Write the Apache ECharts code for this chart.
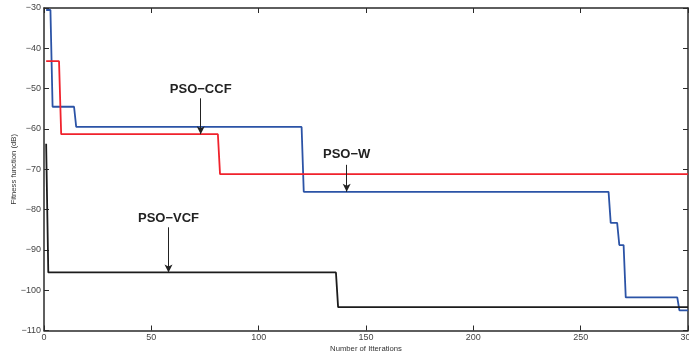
<!DOCTYPE html>
<html>
<head>
<meta charset="utf-8">
<script src="https://cdn.jsdelivr.net/npm/echarts@6/dist/echarts.min.js"></script>
<style>
  html, body { margin: 0; padding: 0; background: #fff; }
  #chart { width: 689px; height: 356px; }
</style>
</head>
<body>
<div id="chart"></div>
<script>
// Convergence curves: [iteration, fitness (dB)] at each step change
const psoW = [[1,-30.5],[3,-30.5],[4,-54.5],[14,-54.5],[15,-59.5],[120,-59.5],[121,-75.6],
  [263,-75.6],[264,-83.3],[267,-83.3],[268,-88.8],[270,-88.8],[271,-101.8],[295,-101.8],[296,-105],[300,-105]];
const psoCCF = [[1,-43.2],[7,-43.2],[8,-61.3],[81,-61.3],[82,-71.2],[300,-71.2]];
const psoVCF = [[1,-63.7],[2,-95.6],[136,-95.6],[137,-104.2],[300,-104.2]];

// Curve labels: text position and arrow from start to tip
const annotations = [
  { name: 'PSO−CCF', text: [73, -50.3], from: [73, -52.4], to: [73, -61.3] },
  { name: 'PSO−W',   text: [141, -66.2], from: [141, -68.9], to: [141, -75.6] },
  { name: 'PSO−VCF', text: [58, -82.3], from: [58, -84.4], to: [58, -95.6] }
];

const xTicks = { min: 0, max: 300, interval: 50 };
const yTicks = { min: -110, max: -30, interval: 10 };

const font = '"Liberation Sans", Arial, Helvetica, sans-serif';
const axisColor = '#2a2a2a';
const minus = v => String(v).replace('-', '\u2212');

const chart = echarts.init(document.getElementById('chart'), null, { renderer: 'canvas' });

const frameAxis = {
  axisLine: { show: true, onZero: false, lineStyle: { color: axisColor, width: 1.5 } },
  axisTick: { show: true, inside: true, length: 5, lineStyle: { color: axisColor, width: 1 } },
  splitLine: { show: false }
};

const lineSeries = (name, data, color) => ({
  name, type: 'line', data, xAxisIndex: 0, yAxisIndex: 0,
  showSymbol: false, symbol: 'none', animation: false,
  lineStyle: { color, width: 1.8 }, z: 3
});

chart.setOption({
  animation: false,
  backgroundColor: '#fff',
  grid: { left: 44, right: 1, top: 8, bottom: 25.5, containLabel: false, outerBoundsMode: 'none' },
  xAxis: [
    Object.assign({
      type: 'value', position: 'bottom', ...xTicks,
      name: 'Number of Itterations', nameLocation: 'middle', nameGap: 14, nameMoveOverlap: false,
      nameTextStyle: { fontFamily: font, fontSize: 7.7, color: '#333' },
      axisLabel: { fontFamily: font, fontSize: 9, color: '#444', margin: 3, formatter: minus }
    }, frameAxis),
    Object.assign({
      type: 'value', position: 'top', ...xTicks, axisLabel: { show: false }
    }, frameAxis)
  ],
  yAxis: [
    Object.assign({
      type: 'value', position: 'left', ...yTicks,
      name: 'Fitness function (dB)', nameLocation: 'middle', nameGap: 26, nameRotate: 90,
      nameMoveOverlap: false,
      nameTextStyle: { fontFamily: font, fontSize: 7.7, color: '#333' },
      axisLabel: { fontFamily: font, fontSize: 9, color: '#444', margin: 3, formatter: minus }
    }, frameAxis),
    Object.assign({
      type: 'value', position: 'right', ...yTicks, axisLabel: { show: false }
    }, frameAxis)
  ],
  series: [
    lineSeries('PSO-W', psoW, '#2b53a6'),
    lineSeries('PSO-CCF', psoCCF, '#f0222c'),
    lineSeries('PSO-VCF', psoVCF, '#1c1c1c'),
    {
      type: 'scatter', xAxisIndex: 0, yAxisIndex: 0, data: [], silent: true, z: 5,
      markLine: {
        silent: true, animation: false,
        symbol: ['none', 'arrow'], symbolSize: [6, 8],
        label: { show: false },
        lineStyle: { color: '#222', width: 1, type: 'solid' },
        data: annotations.map(a => [{ coord: a.from }, { coord: a.to }])
      },
      markPoint: {
        silent: true, animation: false, symbol: 'circle', symbolSize: 0,
        label: {
          show: true, position: 'inside', formatter: p => p.name,
          fontFamily: font, fontWeight: 'bold', fontSize: 13, color: '#222'
        },
        data: annotations.map(a => ({ name: a.name, coord: a.text }))
      }
    }
  ]
});
</script>
</body>
</html>
